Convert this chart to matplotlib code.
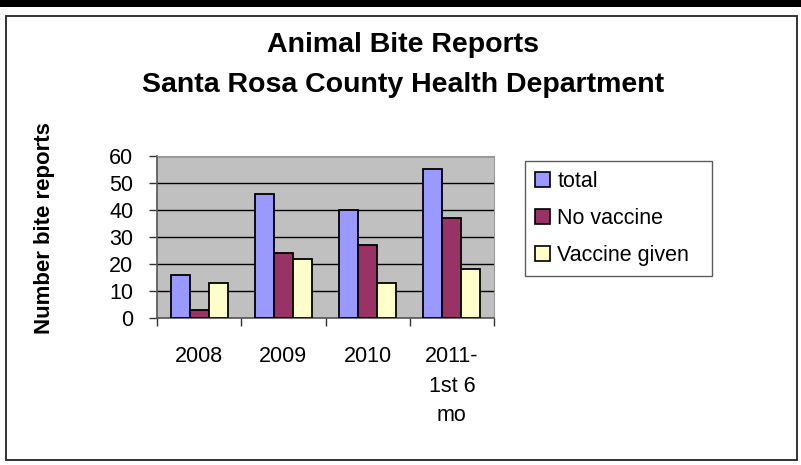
import matplotlib
matplotlib.use('Agg')
import matplotlib.pyplot as plt
from matplotlib.patches import Rectangle, Patch
import numpy as np

plt.rcParams['font.family'] = ['Liberation Sans', 'DejaVu Sans']

# data
categories = ['2008', '2009', '2010', '2011-\n1st 6\nmo']
total = [16, 46, 40, 55]
no_vaccine = [3, 24, 27, 37]
vaccine_given = [13, 22, 13, 18]
series_names = ['total', 'No vaccine', 'Vaccine given']
colors = ['#9999FF', '#993366', '#FFFFCC']

W, H = 801, 465
fig = plt.figure(figsize=(W / 100, H / 100), dpi=100)

# black strip on top and the chart frame (behind the axes)
fig.patches.append(Rectangle((0, 1 - 7 / H), 1, 7 / H, transform=fig.transFigure,
                             facecolor='black', edgecolor='none', zorder=-10))
fig.patches.append(Rectangle((6 / W, 1 - 460 / H), 791 / W, 444 / H,
                             transform=fig.transFigure, facecolor='white',
                             edgecolor='#222222', linewidth=1.3, zorder=-10))

ax = fig.add_axes([157 / W, 1 - 318 / H, (494 - 157) / W, (318 - 156) / H])
ax.set_facecolor('#C0C0C0')

x = np.arange(len(categories))
bw = 0.225
for i, (vals, name, c) in enumerate(zip([total, no_vaccine, vaccine_given], series_names, colors)):
    ax.bar(x + (i - 1) * bw, vals, bw, color=c, edgecolor='black', linewidth=1.3,
           label=name, zorder=3)

ax.set_ylim(0, 60)
ax.set_xlim(-0.5, len(categories) - 0.5)
ax.set_yticks(range(0, 61, 10))
ax.yaxis.grid(True, color='black', linewidth=1.0, zorder=1)
ax.set_axisbelow(True)

ax.set_xticks(x)
ax.set_xticklabels(categories, fontsize=15.5, linespacing=1.55, va='top')
ax.set_xticks(np.arange(-0.5, len(categories)), minor=True)
ax.tick_params(axis='x', which='major', length=0, pad=20)
ax.tick_params(axis='x', which='minor', length=6, width=1, direction='out', color='#333333')
ax.tick_params(axis='y', labelsize=15.5, length=6, width=1, direction='out', pad=11, color='#333333')

for s in ['top', 'right']:
    ax.spines[s].set_color('#999999')
for s in ['left', 'bottom']:
    ax.spines[s].set_color('#555555')
    ax.spines[s].set_linewidth(1.2)

fig.text(45 / W, 1 - 228 / H, 'Number bite reports', rotation=90, ha='center', va='center',
         fontsize=16, fontweight='bold')
fig.text(403 / W, 1 - 45 / H, 'Animal Bite Reports', ha='center', va='center',
         fontsize=20.5, fontweight='bold')
fig.text(403 / W, 1 - 85 / H, 'Santa Rosa County Health Department', ha='center', va='center',
         fontsize=20.5, fontweight='bold')

handles = [Patch(facecolor=c, edgecolor='black', linewidth=1.2) for c in colors]
leg = fig.legend(handles, series_names, loc='upper left', mode='expand',
                 bbox_to_anchor=(525 / W, 1 - 262 / H, 187 / W, 101 / H),
                 bbox_transform=fig.transFigure,
                 borderaxespad=0, fontsize=15.5, frameon=True, fancybox=False,
                 handlelength=0.7, handleheight=0.7, handletextpad=0.35,
                 labelspacing=0.75, borderpad=0.45)
leg.get_frame().set_edgecolor('#333333')
leg.get_frame().set_linewidth(1.0)

fig.savefig('out.png', dpi=100)
